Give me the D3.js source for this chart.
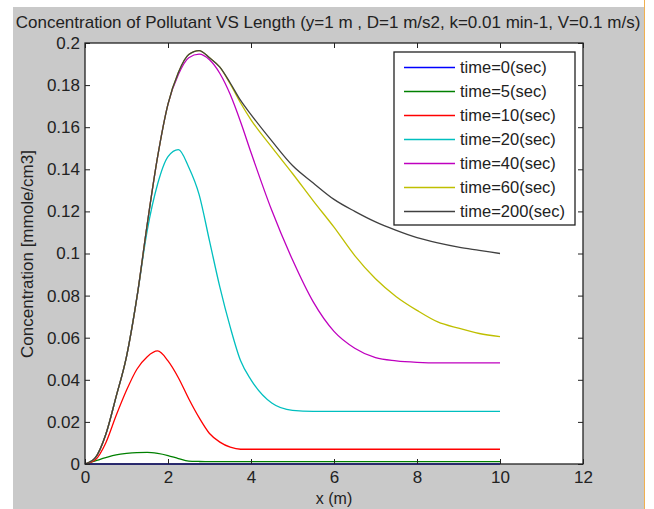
<!DOCTYPE html>
<html>
  <head>
    <meta charset="utf-8">
    <title>Concentration of Pollutant</title>
    <style media="screen">
    body{margin: 0; background: #fff}
    text{font-family: "Liberation Sans", Arial, sans-serif; fill: #222}
    </style>
  </head>
  <body>
    <script src="https://d3js.org/d3.v7.min.js"></script>
    <script type="text/javascript">
      var W = 654, H = 509;

      // x positions (m) where the curves were read
      var xs = [0, 0.25, 0.5, 0.75, 1, 1.25, 1.5, 1.75, 2, 2.25, 2.5, 2.75, 3, 3.25, 3.5, 3.75, 4,
                4.5, 5, 5.5, 6, 6.5, 7, 7.5, 8, 8.5, 9, 9.5, 10];

      var labels = ['time=0(sec)', 'time=5(sec)', 'time=10(sec)', 'time=20(sec)',
                    'time=40(sec)', 'time=60(sec)', 'time=200(sec)'];
      var colors = ['#0000ff', '#008000', '#ff0000', '#00bfbf', '#bf00bf', '#bfbf00', '#404040'];

      var t0 = [0, 0, 0, 0, 0, 0, 0, 0, 0, 0, 0, 0, 0, 0, 0, 0, 0,
                0, 0, 0, 0, 0, 0, 0, 0, 0, 0, 0, 0];
      var t5 = [0, 0.0015, 0.003, 0.0043, 0.005, 0.0054, 0.0055, 0.005, 0.004, 0.0026, 0.0014, 0.0012, 0.0011, 0.0011, 0.0011, 0.0011, 0.0011,
                0.0011, 0.0011, 0.0011, 0.0011, 0.0011, 0.0011, 0.0011, 0.0011, 0.0011, 0.0011, 0.0011, 0.0011];
      var t10 = [0, 0.002, 0.01, 0.023, 0.035, 0.045, 0.051, 0.0537, 0.049, 0.041, 0.031, 0.022, 0.0145, 0.0104, 0.008, 0.007, 0.007,
                 0.007, 0.007, 0.007, 0.007, 0.007, 0.007, 0.007, 0.007, 0.007, 0.007, 0.007, 0.007];
      var t20 = [0, 0.003, 0.014, 0.032, 0.051, 0.079, 0.111, 0.133, 0.146, 0.1493, 0.141, 0.128, 0.106, 0.084, 0.065, 0.049, 0.04,
                 0.029, 0.0255, 0.025, 0.025, 0.025, 0.025, 0.025, 0.025, 0.025, 0.025, 0.025, 0.025];
      var t40 = [0, 0.003, 0.014, 0.032, 0.051, 0.079, 0.114, 0.146, 0.171, 0.185, 0.193, 0.1947, 0.192, 0.1855, 0.1755, 0.1625, 0.148,
                 0.1205, 0.097, 0.077, 0.063, 0.055, 0.0505, 0.049, 0.0483, 0.048, 0.048, 0.048, 0.048];
      var t60 = [0, 0.003, 0.014, 0.032, 0.051, 0.079, 0.114, 0.146, 0.171, 0.186, 0.1945, 0.1964, 0.193, 0.1885, 0.1805, 0.1715, 0.1635,
                 0.1505, 0.138, 0.125, 0.1125, 0.099, 0.088, 0.0795, 0.073, 0.0675, 0.0645, 0.062, 0.0605];
      var t200 = [0, 0.003, 0.014, 0.032, 0.051, 0.079, 0.114, 0.146, 0.171, 0.186, 0.1945, 0.1964, 0.193, 0.1885, 0.181, 0.1727, 0.166,
                  0.1535, 0.1418, 0.1335, 0.1257, 0.12, 0.115, 0.111, 0.1075, 0.105, 0.103, 0.1015, 0.1];
      var series = [t0, t5, t10, t20, t40, t60, t200];

      var xTicks = [0, 2, 4, 6, 8, 10, 12];
      var yTicks = [0, 0.02, 0.04, 0.06, 0.08, 0.1, 0.12, 0.14, 0.16, 0.18, 0.2];

      var m = {left: 85, right: 583, top: 43, bottom: 464};

      var x = d3.scaleLinear().domain([0, 12]).range([m.left, m.right]);
      var y = d3.scaleLinear().domain([0, 0.2]).range([m.bottom, m.top]);

      var svg = d3.select('body').append('svg')
        .attr('width', W)
        .attr('height', H)

      // figure background
      svg.append('rect').attr('x', 13).attr('y', 7).attr('width', 631).attr('height', H - 7)
        .attr('fill', '#c9c9c9')
      svg.append('line').attr('x1', 644.5).attr('x2', 644.5).attr('y1', 0).attr('y2', H)
        .attr('stroke', '#f0b050').attr('stroke-width', 1)

      svg.append('rect')
        .attr('x', m.left).attr('y', m.top)
        .attr('width', m.right - m.left).attr('height', m.bottom - m.top)
        .attr('fill', '#fff')

      var line = d3.line()
        .x(function(d, i){ return x(xs[i]) })
        .y(function(d){ return y(d) })
        .curve(d3.curveMonotoneX)

      svg.selectAll('path.curve')
        .data(series)
        .enter()
          .append('path')
          .attr('class', 'curve')
          .attr('d', line)
          .attr('fill', 'none')
          .attr('stroke', function(d, i){ return colors[i] })
          .attr('stroke-width', 1.3)

      // axes, ticks pointing inward on all four sides
      var tl = 5;
      svg.append('g').attr('transform', 'translate(0,' + m.bottom + ')')
        .call(d3.axisBottom(x).tickValues(xTicks).tickSizeInner(-tl).tickSizeOuter(0).tickPadding(7).tickFormat(d3.format('d')))
      svg.append('g').attr('transform', 'translate(0,' + m.top + ')')
        .call(d3.axisTop(x).tickValues(xTicks).tickSizeInner(-tl).tickSizeOuter(0).tickFormat(''))
      svg.append('g').attr('transform', 'translate(' + m.left + ',0)')
        .call(d3.axisLeft(y).tickValues(yTicks).tickSizeInner(-tl).tickSizeOuter(0).tickPadding(5)
          .tickFormat(function(d){ return d === 0 ? '0' : String(+d.toFixed(2)) }))
      svg.append('g').attr('transform', 'translate(' + m.right + ',0)')
        .call(d3.axisRight(y).tickValues(yTicks).tickSizeInner(-tl).tickSizeOuter(0).tickFormat(''))

      svg.selectAll('.domain').remove()
      svg.selectAll('.tick line').attr('stroke', '#222')
      svg.selectAll('.tick text')
        .style('font-family', '"Liberation Sans", Arial, sans-serif')
        .style('font-size', '17px').attr('fill', '#222')

      svg.append('rect')
        .attr('x', m.left).attr('y', m.top)
        .attr('width', m.right - m.left).attr('height', m.bottom - m.top)
        .attr('fill', 'none').attr('stroke', '#222').attr('stroke-width', 1.3)

      // title and axis labels
      svg.append('text')
        .attr('x', 328).attr('y', 28)
        .attr('text-anchor', 'middle')
        .style('font-size', '17px')
        .text('Concentration of Pollutant VS Length (y=1 m , D=1 m/s2, k=0.01 min-1, V=0.1 m/s)')

      svg.append('text')
        .attr('x', x(6)).attr('y', 504)
        .attr('text-anchor', 'middle')
        .style('font-size', '16px')
        .text('x (m)')

      svg.append('text')
        .attr('transform', 'translate(33,' + 254 + ') rotate(-90)')
        .attr('text-anchor', 'middle')
        .style('font-size', '17px')
        .text('Concentration [mmole/cm3]')

      // legend
      var lg = svg.append('g').attr('transform', 'translate(394,52)')
      lg.append('rect')
        .attr('width', 181).attr('height', 173)
        .attr('fill', '#fff').attr('stroke', '#222').attr('stroke-width', 1.3)

      var item = lg.selectAll('g.item')
        .data(labels)
        .enter()
          .append('g')
          .attr('class', 'item')
          .attr('transform', function(d, i){ return 'translate(0,' + (15.5 + i * 24) + ')' })

      item.append('line')
        .attr('x1', 10).attr('x2', 61)
        .attr('stroke', function(d, i){ return colors[i] })
        .attr('stroke-width', 1.3)

      item.append('text')
        .attr('x', 66).attr('dy', '0.35em')
        .style('font-size', '16.5px')
        .text(function(d){ return d })

    </script>

  </body>
</html>
